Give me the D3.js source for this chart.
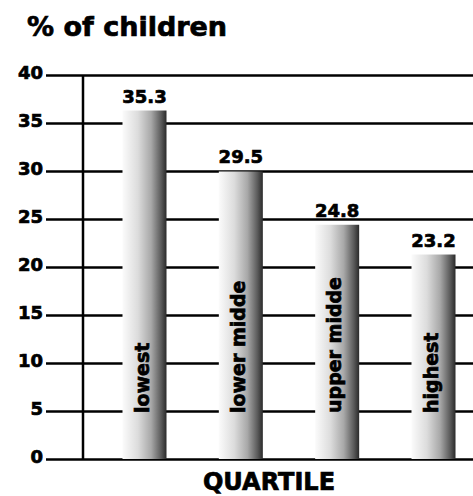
<!DOCTYPE html>
<html>
<head>
<meta charset="utf-8">
<script src="https://cdnjs.cloudflare.com/ajax/libs/d3/7.8.5/d3.min.js"></script>
<style>
	body { margin: 0; background: #fff; }
	text { font-family: "DejaVu Sans", sans-serif; font-weight: bold; fill: #000; stroke: #000; stroke-width: 0.7px; }
</style>
</head>
<body>
<svg id="chart" width="473" height="496"></svg>
<script>
"use strict";

// quartile categories, bar heights as drawn, and the printed value labels
var categories = ["lowest", "lower midde", "upper midde", "highest"];
var barHeights = [36.3, 29.95, 24.4, 21.3];
var valueLabels = ["35.3", "29.5", "24.8", "23.2"];
var yTicks = [0, 5, 10, 15, 20, 25, 30, 35, 40];

var svg = d3.select("#chart");

var y = d3.scaleLinear().domain([0, 40]).range([459, 75]);
var x = d3.scalePoint().domain(categories).range([144.5, 433.5]);
var barW = 44;

// gradient for the cylinder-like bars
var grad = svg.append("defs").append("linearGradient")
	.attr("id", "barGrad")
	.attr("x1", "0%").attr("x2", "100%")
	.attr("y1", "0%").attr("y2", "0%");
grad.append("stop").attr("offset", "0%").attr("stop-color", "#fbfbfb");
grad.append("stop").attr("offset", "35%").attr("stop-color", "#dcdcdc");
grad.append("stop").attr("offset", "65%").attr("stop-color", "#a8a8a8");
grad.append("stop").attr("offset", "88%").attr("stop-color", "#5a5a5a");
grad.append("stop").attr("offset", "100%").attr("stop-color", "#2a2a2a");

// title
svg.append("text")
	.attr("x", 27).attr("y", 36)
	.style("font-size", "27px")
	.text("% of children");

// gridlines + tick labels
var axis = svg.append("g")
	.attr("transform", "translate(46,0)")
	.call(d3.axisLeft(y).tickValues(yTicks).tickSize(-(473 - 46)).tickPadding(3));
axis.select(".domain").remove();
axis.selectAll(".tick line")
	.attr("stroke", "#000")
	.attr("stroke-width", 2.5);
axis.selectAll(".tick text")
	.attr("dy", "0.22em")
	.style("font-family", "\"DejaVu Sans\", sans-serif")
	.style("font-weight", "bold")
	.style("font-size", "18px")
	.style("stroke", "#000")
	.style("stroke-width", "0.7px");

// vertical axis line
svg.append("line")
	.attr("x1", 83).attr("x2", 83)
	.attr("y1", y(40)).attr("y2", y(0))
	.attr("stroke", "#000")
	.attr("stroke-width", 2.5);

// bars
svg.selectAll(".bar")
	.data(categories)
	.enter().append("rect")
	.attr("class", "bar")
	.attr("x", function(d){ return x(d) - barW/2; })
	.attr("y", function(d, i){ return y(barHeights[i]); })
	.attr("width", barW)
	.attr("height", function(d, i){ return y(0) - y(barHeights[i]); })
	.attr("fill", "url(#barGrad)");

// value labels above bars
svg.selectAll(".val")
	.data(categories)
	.enter().append("text")
	.attr("class", "val")
	.attr("x", function(d){ return x(d); })
	.attr("y", function(d, i){ return y(barHeights[i]) - 8; })
	.attr("text-anchor", "middle")
	.style("font-size", "18px")
	.text(function(d, i){ return valueLabels[i]; });

// category labels inside bars
svg.selectAll(".cat")
	.data(categories)
	.enter().append("text")
	.attr("class", "cat")
	.attr("transform", function(d){ return "translate(" + (x(d) + 4) + ",413) rotate(-90)"; })
	.style("font-size", "19px")
	.text(function(d){ return d; });

// axis title
svg.append("text")
	.attr("x", 269).attr("y", 490)
	.attr("text-anchor", "middle")
	.style("font-size", "24px")
	.text("QUARTILE");
</script>
</body>
</html>
